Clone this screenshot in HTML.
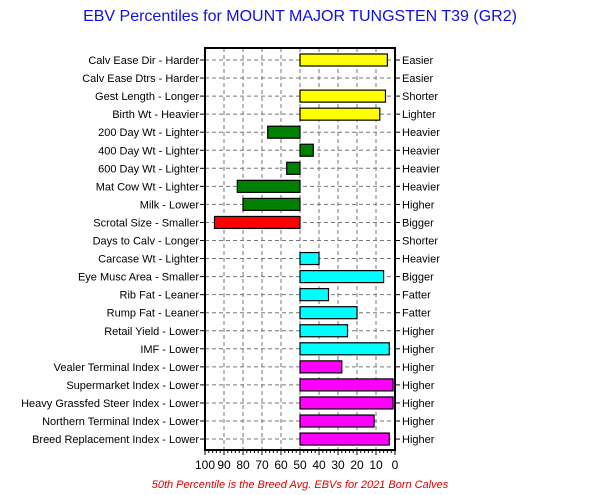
<!DOCTYPE html>
<html><head><meta charset="utf-8"><style>
body{margin:0;background:#fff;width:600px;height:495px;overflow:hidden;font-family:"Liberation Sans",sans-serif}
</style></head><body>
<svg id="c" width="600" height="495" style="display:block">
<text x="300" y="21" text-anchor="middle" font-size="16" fill="#1010e0">EBV Percentiles for MOUNT MAJOR TUNGSTEN T39 (GR2)</text>
<text x="300" y="488" text-anchor="middle" font-size="11" font-style="italic" fill="#e00000">50th Percentile is the Breed Avg. EBVs for 2021 Born Calves</text>
<g id="g"></g>
</svg>
<script>
const traits=["Calv Ease Dir - Harder","Calv Ease Dtrs - Harder","Gest Length - Longer","Birth Wt - Heavier","200 Day Wt - Lighter","400 Day Wt - Lighter","600 Day Wt - Lighter","Mat Cow Wt - Lighter","Milk - Lower","Scrotal Size - Smaller","Days to Calv - Longer","Carcase Wt - Lighter","Eye Musc Area - Smaller","Rib Fat - Leaner","Rump Fat - Leaner","Retail Yield - Lower","IMF - Lower","Vealer Terminal Index - Lower","Supermarket Index - Lower","Heavy Grassfed Steer Index - Lower","Northern Terminal Index - Lower","Breed Replacement Index - Lower"];
const rightLabels=["Easier","Easier","Shorter","Lighter","Heavier","Heavier","Heavier","Heavier","Higher","Bigger","Shorter","Heavier","Bigger","Fatter","Fatter","Higher","Higher","Higher","Higher","Higher","Higher","Higher"];
const percentiles=[4,null,5,8,67,43,57,83,80,95,null,40,6,35,20,25,3,28,1,1,11,3];
const colors=["#ffff00","#ffff00","#ffff00","#ffff00","#008000","#008000","#008000","#008000","#008000","#ff0000","#ff0000","#00ffff","#00ffff","#00ffff","#00ffff","#00ffff","#00ffff","#ff00ff","#ff00ff","#ff00ff","#ff00ff","#ff00ff"];
const xTicks=[100,90,80,70,60,50,40,30,20,10,0];
const L=205,R=395,T=48,B=450,Y0=60,DY=18.05;
const xs=v=>R-(R-L)*v/100;
const ys=i=>Y0+i*DY;
const g=document.getElementById('g');
const NS="http://www.w3.org/2000/svg";
function mk(t,a){const e=document.createElementNS(NS,t);for(const k in a)e.setAttribute(k,a[k]);g.appendChild(e);return e;}
xTicks.forEach(v=>{if(v>0&&v<100){const l=mk('line',{x1:xs(v),x2:xs(v),y1:T,y2:B,stroke:'#777','stroke-dasharray':'4,3'});

}
const t=mk('text',{x:xs(v),y:469,'text-anchor':'middle','font-size':12,fill:'#000'});t.textContent=v;

});
for(let v=0;v<=100;v+=2){const l=mk('line',{x1:xs(v),x2:xs(v),y1:B,y2:B+(v%10?3:5),stroke:'#000'});

}
traits.forEach((n,i)=>{const y=ys(i);
const gl=mk('line',{x1:L,x2:R,y1:y,y2:y,stroke:'#777','stroke-dasharray':'4,3'});


mk('line',{x1:L-5,x2:L,y1:y,y2:y,stroke:'#000'});mk('line',{x1:R,x2:R+5,y1:y,y2:y,stroke:'#000'});
const t=mk('text',{x:199,y:y+4,'text-anchor':'end','font-size':11,fill:'#000'});t.textContent=n;


const r=mk('text',{x:402,y:y+4,'font-size':11,fill:'#000'});r.textContent=rightLabels[i];


const p=percentiles[i];if(p!=null){const a=xs(50),b=xs(p);
const bar=mk('rect',{x:Math.min(a,b),y:y-6,width:Math.abs(b-a),height:12,fill:colors[i],stroke:'#000','stroke-width':1.2});

}});
const f=mk('rect',{x:L,y:T,width:R-L,height:B-T,fill:'none',stroke:'#000','stroke-width':2});


</script>
</body></html>
